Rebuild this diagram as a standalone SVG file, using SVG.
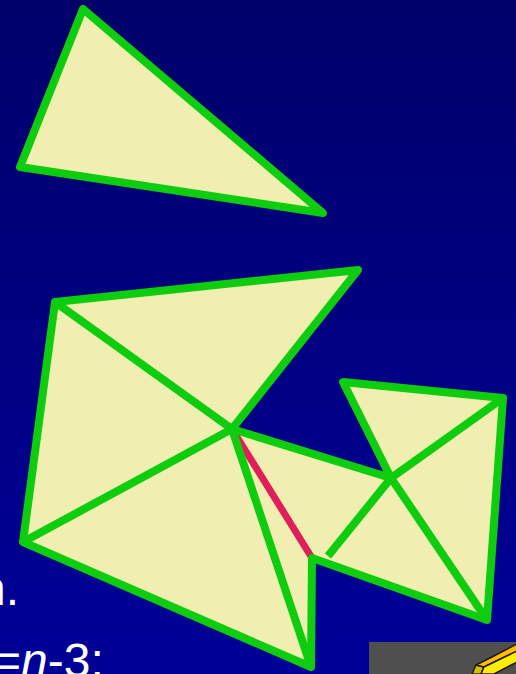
<svg xmlns="http://www.w3.org/2000/svg" width="516" height="674" viewBox="0 0 516 674">
  <defs>
    <linearGradient id="bg" x1="0" y1="0" x2="0" y2="1">
      <stop offset="0" stop-color="#00006A"/>
      <stop offset="1" stop-color="#000098"/>
    </linearGradient>
  </defs>
  <style>
    .face { fill: #F0EEB0; stroke: none; }
    .edge { fill: none; stroke: #0ECC0E; stroke-width: 8; stroke-linejoin: round; stroke-linecap: round; }
    .diag { fill: none; stroke: #0ECC0E; stroke-width: 8; stroke-linecap: butt; }
    .red { fill: none; stroke: #E01E5A; stroke-width: 7; stroke-linecap: butt; }
    .txt { font-family: "Liberation Sans", Arial, sans-serif; font-size: 48px; fill: #FFFFFF; }
    .pen { stroke: #2A1400; stroke-width: 1.5; stroke-linejoin: round; }
  </style>
  <rect x="0" y="0" width="516" height="674" fill="url(#bg)"/>

  <g id="triangle-top">
    <polygon class="face" points="83,9 20,167 323,213"/>
    <polygon class="edge" points="83,9 20,167 323,213"/>
  </g>

  <g id="polygon-main">
    <polygon class="face" points="55,302 358,270 232,429 391,478 343,382 503,398 487,620 312,558 311,667 23,542"/>
  </g>

  <g id="connectors">
    <line class="red" x1="232" y1="429" x2="312" y2="558"/>
    <line class="diag" x1="55" y1="302" x2="232" y2="429"/>
    <line class="diag" x1="23" y1="542" x2="232" y2="429"/>
    <line class="diag" x1="232" y1="429" x2="311" y2="667"/>
    <line class="diag" x1="391" y1="478" x2="503" y2="398"/>
    <line class="diag" x1="391" y1="478" x2="487" y2="620"/>
    <line class="diag" x1="391" y1="478" x2="328" y2="556"/>
  </g>

  <g id="polygon-main-outline">
    <polygon class="edge" points="55,302 358,270 232,429 391,478 343,382 503,398 487,620 312,558 311,667 23,542"/>
  </g>

  <g id="text">
    <text class="txt" x="19" y="605" text-anchor="end">n.</text>
    <text class="txt" x="-7" y="677">=<tspan font-style="italic">n</tspan>-3;</text>
  </g>

  <g id="pencil-box">
    <rect x="369" y="642" width="147" height="32" fill="#4F4F4F"/>
    <polygon class="pen" fill="#CDC400" points="472,674 476,665 484,667 481,674"/>
    <polygon class="pen" fill="#F8C000" points="476,665 490,658 517,644 517,651 484,667"/>
    <polygon class="pen" fill="#FFEE00" points="484,667 517,651 517,662 494,674 481,674"/>
  </g>
</svg>
